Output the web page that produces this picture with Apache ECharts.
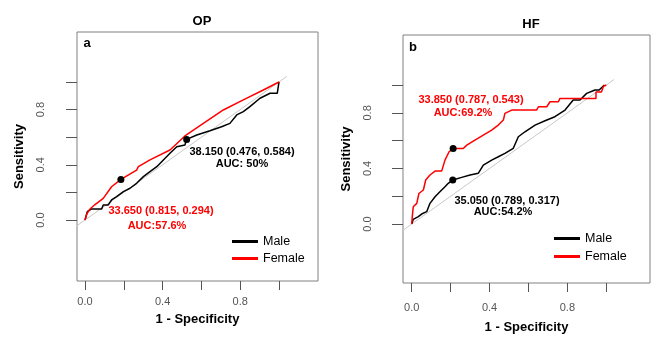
<!DOCTYPE html>
<html>
<head>
<meta charset="utf-8">
<script src="https://cdn.jsdelivr.net/npm/echarts@6/dist/echarts.min.js"></script>
<style>
    html, body { margin: 0; padding: 0; background: #fff; }
    #roc { width: 669px; height: 346px; }
</style>
</head>
<body>
<div id="roc"></div>
<script>
(function() {
    "use strict";
    var FONT = 'Liberation Sans';

    // ticks / labels
    var tickValues = [0, 0.2, 0.4, 0.6, 0.8, 1];
    var labelValues = [0, 0.4, 0.8];

    // panel a (OP): [1 - specificity, sensitivity]
    var opMale = [[0, 0], [0.012, 0.06], [0.034, 0.08], [0.086, 0.08], [0.094, 0.109], [0.12, 0.109],
        [0.137, 0.145], [0.163, 0.169], [0.198, 0.205], [0.232, 0.23], [0.266, 0.266], [0.301, 0.314],
        [0.335, 0.35], [0.37, 0.386], [0.404, 0.435], [0.438, 0.483], [0.473, 0.531], [0.515, 0.543],
        [0.524, 0.584], [0.576, 0.616], [0.644, 0.647], [0.704, 0.676], [0.747, 0.70], [0.782, 0.761],
        [0.816, 0.785], [0.85, 0.821], [0.902, 0.882], [0.954, 0.918], [0.991, 0.918], [1, 1]];
    var opFemale = [[0, 0], [0.009, 0.043], [0.026, 0.08], [0.05, 0.11], [0.094, 0.157], [0.137, 0.241],
        [0.185, 0.294], [0.266, 0.362], [0.275, 0.386], [0.335, 0.435], [0.438, 0.507], [0.515, 0.609],
        [0.61, 0.70], [0.713, 0.797], [0.816, 0.87], [0.919, 0.942], [1, 1]];
    var opCutMale = [[0.524, 0.584]];
    var opCutFemale = [[0.185, 0.294]];

    // panel b (HF)
    var hfMale = [[0, 0], [0.008, 0.034], [0.034, 0.053], [0.051, 0.072], [0.077, 0.089], [0.094, 0.149],
        [0.12, 0.196], [0.145, 0.232], [0.171, 0.268], [0.188, 0.293], [0.211, 0.317], [0.257, 0.336],
        [0.3, 0.353], [0.342, 0.365], [0.368, 0.424], [0.411, 0.46], [0.445, 0.484], [0.479, 0.509],
        [0.522, 0.545], [0.548, 0.628], [0.582, 0.664], [0.634, 0.712], [0.685, 0.743], [0.736, 0.772],
        [0.788, 0.82], [0.83, 0.892], [0.865, 0.892], [0.899, 0.94], [0.942, 0.964], [0.963, 0.964], [0.99, 1]];
    var hfFemale = [[0, 0], [0.003, 0.053], [0.008, 0.124], [0.026, 0.149], [0.037, 0.22], [0.06, 0.245],
        [0.072, 0.317], [0.094, 0.353], [0.12, 0.381], [0.154, 0.381], [0.171, 0.46], [0.192, 0.52],
        [0.213, 0.543], [0.265, 0.543], [0.283, 0.568], [0.325, 0.604], [0.368, 0.64], [0.411, 0.676],
        [0.445, 0.712], [0.471, 0.748], [0.479, 0.796], [0.514, 0.82], [0.642, 0.82], [0.651, 0.844],
        [0.694, 0.844], [0.711, 0.88], [0.754, 0.88], [0.762, 0.904], [0.947, 0.904], [0.947, 0.95],
        [0.975, 0.95], [0.985, 0.99], [1, 1]];
    var hfCutMale = [[0.211, 0.317]];
    var hfCutFemale = [[0.213, 0.543]];

    var diagonal = [[-0.045, -0.045], [1.04, 1.04]];

    var chart = echarts.init(document.getElementById('roc'));

    function xAxisFor(idx, min, max, labelMargin, nameGap) {
        return {
            type: 'value', gridIndex: idx, min: min, max: max,
            name: '1 - Specificity', nameLocation: 'middle', nameGap: nameGap,
            nameTextStyle: { fontFamily: FONT, fontWeight: 'bold', fontSize: 13, color: '#000' },
            axisLine: { show: false, onZero: false },
            splitLine: { show: false },
            axisTick: { show: true, length: 9, customValues: tickValues, lineStyle: { color: '#555' } },
            axisLabel: { customValues: labelValues, margin: labelMargin, fontFamily: FONT, fontSize: 11, color: '#555',
                formatter: function(v) { return v.toFixed(1); } }
        };
    }

    function yAxisFor(idx, min, max, labelMargin, nameGap) {
        return {
            type: 'value', gridIndex: idx, min: min, max: max,
            name: 'Sensitivity', nameLocation: 'middle', nameGap: nameGap,
            nameTextStyle: { fontFamily: FONT, fontWeight: 'bold', fontSize: 13, color: '#000' },
            axisLine: { show: false, onZero: false },
            splitLine: { show: false },
            axisTick: { show: true, length: 11, customValues: tickValues, lineStyle: { color: '#555' } },
            axisLabel: { customValues: labelValues, rotate: 90, margin: labelMargin, fontFamily: FONT, fontSize: 11, color: '#555',
                formatter: function(v) { return v.toFixed(1); } }
        };
    }

    function lineSeries(name, idx, data, color) {
        return {
            name: name, type: 'line', xAxisIndex: idx, yAxisIndex: idx, data: data,
            showSymbol: false, symbol: 'none', clip: false, z: 3,
            lineStyle: { color: color, width: 1.5 }, itemStyle: { color: color }
        };
    }

    function dotSeries(idx, data) {
        return {
            type: 'scatter', xAxisIndex: idx, yAxisIndex: idx, data: data,
            symbolSize: 7, itemStyle: { color: '#000', opacity: 1 }, z: 5, silent: true
        };
    }

    function diagSeries(idx) {
        return {
            type: 'line', xAxisIndex: idx, yAxisIndex: idx, data: diagonal,
            showSymbol: false, symbol: 'none', clip: false, silent: true, z: 1,
            lineStyle: { color: '#c8c8c8', width: 1 }
        };
    }

    function txt(s, x, y, color, size) {
        return {
            type: 'text', x: x, y: y, silent: true,
            style: { text: s, fill: color, font: 'bold ' + (size || 11) + 'px ' + FONT,
                align: 'center', verticalAlign: 'middle' }
        };
    }

    var legendBase = {
        orient: 'vertical', icon: 'rect', itemWidth: 26, itemHeight: 3, itemGap: 4, padding: 0,
        textStyle: { fontFamily: FONT, fontSize: 12.5, color: '#000' },
        data: ['Male', 'Female']
    };

    var option = {
        animation: false,
        backgroundColor: '#fff',
        title: [
            { text: 'OP', left: 197, top: 10, textAlign: 'center',
              textStyle: { fontFamily: FONT, fontWeight: 'bold', fontSize: 13, color: '#000' } },
            { text: 'HF', left: 526, top: 13, textAlign: 'center',
              textStyle: { fontFamily: FONT, fontWeight: 'bold', fontSize: 13, color: '#000' } }
        ],
        legend: [
            Object.assign({}, legendBase, { left: 232, top: 235 }),
            Object.assign({}, legendBase, { left: 554, top: 232, itemGap: 5 })
        ],
        grid: [
            { left: 77, top: 32, width: 241, height: 249, show: true, borderColor: '#808080', borderWidth: 1, backgroundColor: 'transparent' },
            { left: 403, top: 35, width: 247, height: 248, show: true, borderColor: '#808080', borderWidth: 1, backgroundColor: 'transparent' }
        ],
        xAxis: [
            xAxisFor(0, -0.0412, 1.201, 15, 32),
            xAxisFor(1, -0.0447, 1.2246, 19, 38)
        ],
        yAxis: [
            yAxisFor(0, -0.442, 1.362, 31, 51),
            yAxisFor(1, -0.424, 1.36, 30, 50)
        ],
        series: [
            diagSeries(0),
            lineSeries('Male', 0, opMale, '#000000'),
            lineSeries('Female', 0, opFemale, '#ff0000'),
            dotSeries(0, opCutMale.concat(opCutFemale)),
            diagSeries(1),
            lineSeries('Male', 1, hfMale, '#000000'),
            lineSeries('Female', 1, hfFemale, '#ff0000'),
            dotSeries(1, hfCutMale.concat(hfCutFemale))
        ],
        graphic: [
            txt('a', 87, 43, '#000', 13),
            txt('b', 413, 47, '#000', 13),
            txt('38.150 (0.476, 0.584)', 242, 152, '#000'),
            txt('AUC: 50%', 242, 164, '#000'),
            txt('33.650 (0.815, 0.294)', 161, 211, '#ff0000'),
            txt('AUC:57.6%', 157, 226, '#ff0000'),
            txt('33.850 (0.787, 0.543)', 471, 100, '#ff0000'),
            txt('AUC:69.2%', 463, 113, '#ff0000'),
            txt('35.050 (0.789, 0.317)', 507, 201, '#000'),
            txt('AUC:54.2%', 503, 212, '#000')
        ]
    };
    chart.setOption(option);
})();
</script>
</body>
</html>
